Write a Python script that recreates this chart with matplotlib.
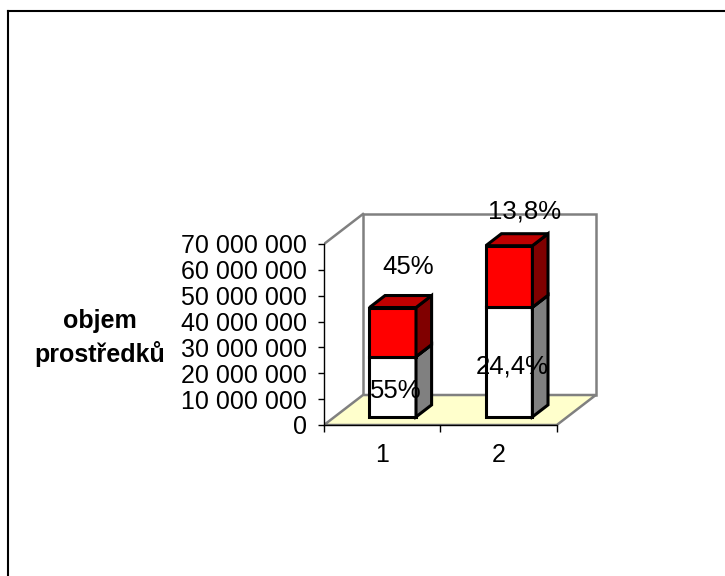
import matplotlib
matplotlib.use("Agg")
import matplotlib.pyplot as plt
from matplotlib.patches import Polygon
from matplotlib.lines import Line2D
from matplotlib.ticker import FuncFormatter

plt.rcParams['font.family'] = ['Liberation Sans', 'DejaVu Sans']

# data
categories = ['1', '2']
white_vals = [23.3e6, 42.4e6]
red_vals = [19.0e6, 23.8e6]
white_labels = ['55%', '24,4%']
red_labels = ['45%', '13,8%']
y_ticks = [0, 10e6, 20e6, 30e6, 40e6, 50e6, 60e6, 70e6]

# oblique depth offset (data units at full floor depth)
DX = 0.335
DY = 11.6e6
F0, F1 = 0.27, 0.67   # bar front/back depth fraction
BW = 0.40             # bar width


def proj(x, y, d):
    return (x + d * DX, y + d * DY)


fig = plt.figure(figsize=(7.25, 5.76), dpi=100)
ax = fig.add_axes([324 / 725, 1 - 425 / 576, 291 / 725, (425 - 205.2) / 576])
ax.set_xlim(0.5, 3.0)
ax.set_ylim(0, 85e6)
ax.patch.set_alpha(0)

# walls and floor
x0, x1 = 0.5, 0.5 + len(categories)
ytop = y_ticks[-1]
gray = '#808080'
floor = Polygon([proj(x0, 0, 0), proj(x1, 0, 0), proj(x1, 0, 1), proj(x0, 0, 1)],
                closed=True, facecolor='#FFFFCC', edgecolor=gray, lw=1.8, zorder=1)
back = Polygon([proj(x0, 0, 1), proj(x1, 0, 1), proj(x1, ytop, 1), proj(x0, ytop, 1)],
               closed=True, facecolor='white', edgecolor=gray, lw=1.8, zorder=1)
ax.add_patch(back)
ax.add_patch(floor)
p, q = proj(x0, ytop, 0), proj(x0, ytop, 1)
ax.add_line(Line2D([p[0], q[0]], [p[1], q[1]], color=gray, lw=1.8, zorder=1))


def box(xc, y0, h, front, top, side):
    xl, xr = xc - BW / 2, xc + BW / 2
    y1 = y0 + h
    faces = [
        ([proj(xl, y0, F0), proj(xr, y0, F0), proj(xr, y1, F0), proj(xl, y1, F0)], front),
        ([proj(xr, y0, F0), proj(xr, y0, F1), proj(xr, y1, F1), proj(xr, y1, F0)], side),
        ([proj(xl, y1, F0), proj(xr, y1, F0), proj(xr, y1, F1), proj(xl, y1, F1)], top),
    ]
    for pts, c in faces:
        ax.add_patch(Polygon(pts, closed=True, facecolor=c, edgecolor='black',
                             lw=2.2, joinstyle='miter', zorder=3))


for i, cat in enumerate(categories):
    xc = i + 1
    box(xc, 0, white_vals[i], 'white', 'white', gray)
    box(xc, white_vals[i], red_vals[i], '#FF0000', '#C00000', '#800000')
    # data labels
    ax.text(xc + 0.12, white_vals[i] / 2 - 4e6 + 5.4e6, white_labels[i], fontsize=18.5,
            ha='center', va='center', zorder=5)
    ax.text(xc + 0.22, white_vals[i] + red_vals[i] / 2 + 23e6 + 5.4e6, red_labels[i],
            fontsize=18.5, ha='center', va='center', zorder=5, clip_on=False)

# axes
for s in ['top', 'right']:
    ax.spines[s].set_visible(False)
ax.spines['left'].set_bounds(0, ytop)
ax.spines['bottom'].set_bounds(x0, x1)
ax.spines['left'].set_linewidth(1)
ax.spines['bottom'].set_linewidth(1)
ax.spines['left'].set_zorder(4)
ax.spines['bottom'].set_zorder(4)

ax.set_yticks(y_ticks)
ax.yaxis.set_major_formatter(FuncFormatter(lambda v, _: f'{int(v):,}'.replace(',', ' ')))
ax.tick_params(axis='y', length=4.5, width=1, pad=8, labelsize=18)

ax.set_xticks([x0 + k for k in range(len(categories) + 1)])
ax.set_xticklabels([])
ax.set_xticks(range(1, len(categories) + 1), minor=True)
ax.set_xticklabels(categories, minor=True)
ax.tick_params(axis='x', which='major', length=5, width=1)
ax.tick_params(axis='x', which='minor', length=0, pad=13, labelsize=18)

fig.text(100 / 725, 1 - 338 / 576, 'objem\nprostředků', fontsize=18, fontweight='bold',
         ha='center', va='center', linespacing=1.4)

# chart border (top and left)
fig.add_artist(Line2D([8 / 725, 1], [1 - 11 / 576] * 2, color='black', lw=1.5,
                      transform=fig.transFigure))
fig.add_artist(Line2D([8 / 725] * 2, [0, 1 - 11 / 576], color='black', lw=1.5,
                      transform=fig.transFigure))

fig.savefig('out.png', dpi=100)
